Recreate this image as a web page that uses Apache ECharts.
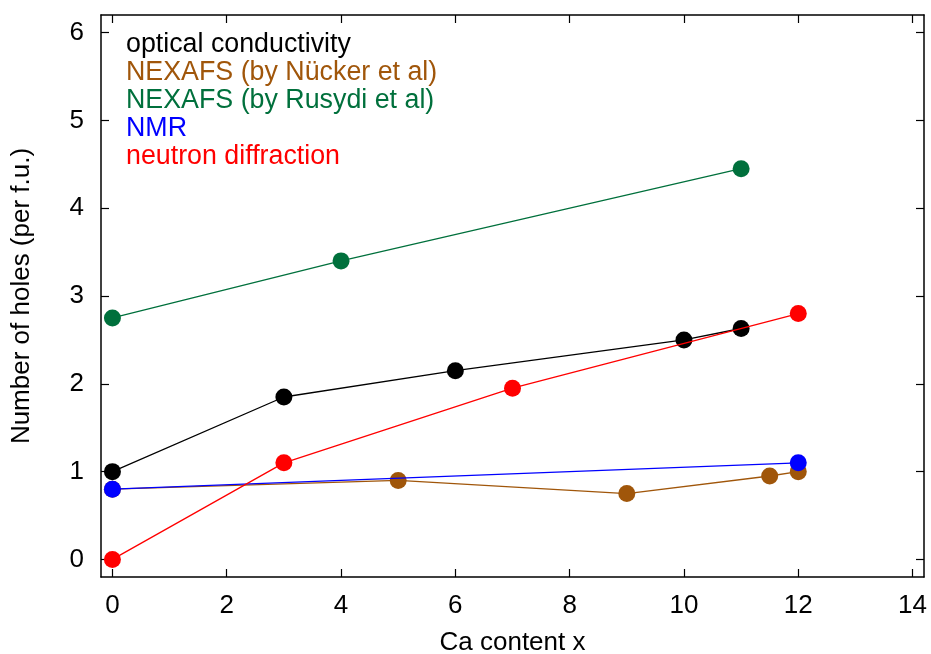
<!DOCTYPE html>
<html>
<head>
<meta charset="utf-8">
<script src="https://cdn.jsdelivr.net/npm/echarts@6/dist/echarts.min.js"></script>
<style>html,body{margin:0;padding:0;background:#fff}#c{width:931px;height:654px}</style>
</head>
<body>
<div id="c"></div>
<script>
const xTicks = [0, 2, 4, 6, 8, 10, 12, 14];
const yTicks = [0, 1, 2, 3, 4, 5, 6];
const seriesNames = ['optical conductivity', 'NEXAFS (by Nücker et al)', 'NEXAFS (by Rusydi et al)', 'NMR', 'neutron diffraction'];
const seriesColors = ['#000000', '#A0560A', '#00703C', '#0000FF', '#FF0000'];
const opticalData = [[0, 1.0], [3, 1.85], [6, 2.15], [10, 2.5], [11, 2.63]];
const nuckerData = [[0, 0.8], [5, 0.9], [9, 0.75], [11.5, 0.95], [12, 1.0]];
const rusydiData = [[0, 2.75], [4, 3.4], [11, 4.45]];
const nmrData = [[0, 0.8], [12, 1.1]];
const neutronData = [[0, 0.0], [3, 1.1], [7, 1.95], [12, 2.8]];
const allData = [opticalData, nuckerData, rusydiData, nmrData, neutronData];

const font = 'Liberation Sans, Arial, Helvetica, sans-serif';
const chart = echarts.init(document.getElementById('c'));
const axisLine = {show: true, onZero: false, lineStyle: {color: '#000', width: 1.5}};
const tick = (vals) => ({show: true, inside: true, length: 8, customValues: vals, lineStyle: {color: '#000', width: 1.2}});

const drawOrder = [1, 3, 2, 0, 4];
chart.setOption({
  animation: false,
  grid: {left: 101, top: 15, right: 7, bottom: 77, containLabel: false, outerBoundsMode: 'none'},
  xAxis: [
    {type: 'value', min: -0.2, max: 14.2, position: 'bottom', axisLine, axisTick: tick(xTicks),
     axisLabel: {customValues: xTicks, fontSize: 26, color: '#000', fontFamily: font, margin: 16},
     splitLine: {show: false}, name: 'Ca content x', nameLocation: 'middle', nameGap: 53,
     nameTextStyle: {fontSize: 26, color: '#000', fontFamily: font}},
    {type: 'value', min: -0.2, max: 14.2, position: 'top', axisLine, axisTick: tick(xTicks),
     axisLabel: {show: false}, splitLine: {show: false}}
  ],
  yAxis: [
    {type: 'value', min: -0.2, max: 6.2, position: 'left', axisLine, axisTick: tick(yTicks),
     axisLabel: {customValues: yTicks, fontSize: 26, color: '#000', fontFamily: font, margin: 17},
     splitLine: {show: false}, name: 'Number of holes (per f.u.)', nameLocation: 'middle', nameGap: 66,
     nameTextStyle: {fontSize: 26, color: '#000', fontFamily: font}},
    {type: 'value', min: -0.2, max: 6.2, position: 'right', axisLine, axisTick: tick(yTicks),
     axisLabel: {show: false}, splitLine: {show: false}}
  ],
  series: drawOrder.map((i, k) => ({
    name: seriesNames[i], type: 'line', data: allData[i], z: 2 + k,
    symbol: 'circle', symbolSize: 17, showSymbol: true,
    lineStyle: {color: seriesColors[i], width: 1.3},
    itemStyle: {color: seriesColors[i]}
  })),
  graphic: seriesNames.map((n, i) => ({
    type: 'text', left: 126, top: 31 + i * 28,
    style: {text: n, fill: seriesColors[i], fontSize: 26.8, fontFamily: font}
  }))
});
</script>
</body>
</html>
